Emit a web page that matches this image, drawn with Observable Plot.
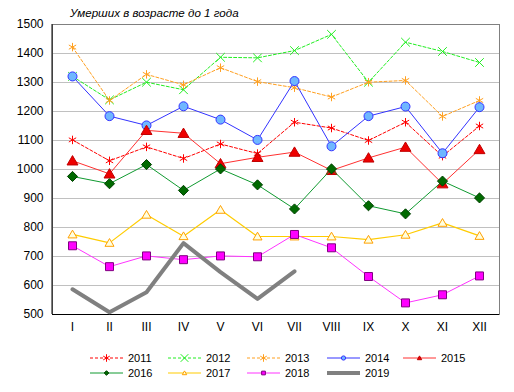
<!DOCTYPE html>
<html><head><meta charset="utf-8">
<script src="https://cdn.jsdelivr.net/npm/d3@7"></script>
<script src="https://cdn.jsdelivr.net/npm/@observablehq/plot@0.6"></script>
<style>
body{margin:0;background:#fff;font-family:"Liberation Sans",Arial,sans-serif;}
#wrap{position:relative;width:514px;height:392px;overflow:hidden;}
#title{position:absolute;left:70px;top:6px;font-style:italic;font-size:11.6px;color:#000;}
#legend{position:absolute;left:0;top:340px;}
</style></head><body>
<div id="wrap"><div id="chart"></div><div id="title">Умерших в возрасте до 1 года</div><svg id="legend" width="514" height="52"></svg></div>
<script>
const months = ["I","II","III","IV","V","VI","VII","VIII","IX","X","XI","XII"];
const yTicks = [500,600,700,800,900,1000,1100,1200,1300,1400,1500];
const y2011 = [1102,1030,1078,1038,1088,1055,1163,1143,1100,1163,1046,1150];
const y2012 = [1321,1240,1301,1275,1387,1385,1410,1466,1301,1439,1407,1369];
const y2013 = [1422,1238,1328,1292,1351,1303,1282,1250,1301,1307,1183,1238];
const y2014 = [1321,1184,1152,1218,1172,1102,1305,1080,1184,1217,1056,1215];
const y2015 = [1030,985,1135,1125,1020,1042,1060,997,1040,1077,951,1069];
const y2016 = [976,951,1017,928,1002,947,864,1002,875,847,960,902];
const y2017 = [776,747,844,770,861,769,769,769,758,775,816,771];
const y2018 = [737,665,702,689,702,699,776,730,631,540,568,633];
const y2019 = [587,508,577,746,646,554,649];

// square-ish diamond (like a rotated square)
const sqDiamond = {draw(ctx, size){ const r = Math.sqrt(size/Math.PI)*1.1; ctx.moveTo(0,-r); ctx.lineTo(r,0); ctx.lineTo(0,r); ctx.lineTo(-r,0); ctx.closePath(); }};
// Excel-like triangle: base at bottom, apex up
const tri = {draw(ctx, size){ const r = Math.sqrt(size/Math.PI); ctx.moveTo(0,-r); ctx.lineTo(r*1.05,r*0.8); ctx.lineTo(-r*1.05,r*0.8); ctx.closePath(); }};

const series = [
  {name:"2011", vals:y2011, stroke:"#ff0000", dash:"3,2", sw:1, sym:"asterisk", mstroke:"#ff0000", mfill:"none", r:4},
  {name:"2012", vals:y2012, stroke:"#22ee22", dash:"3,2", sw:1, sym:"times", mstroke:"#22ee22", mfill:"none", r:4},
  {name:"2013", vals:y2013, stroke:"#ffa020", dash:"3,2", sw:1, sym:"asterisk", mstroke:"#ffa020", mfill:"none", r:4},
  {name:"2014", vals:y2014, stroke:"#3333ff", dash:null, sw:1, sym:"circle", mstroke:"#3333ff", mfill:"#6fb7ff", r:4.5},
  {name:"2015", vals:y2015, stroke:"#ff3030", dash:null, sw:1, sym:tri, mstroke:"#c00000", mfill:"#ee0000", r:5.2},
  {name:"2016", vals:y2016, stroke:"#109a30", dash:null, sw:1, sym:sqDiamond, mstroke:"#004000", mfill:"#006a00", r:4.6},
  {name:"2017", vals:y2017, stroke:"#ffcc00", dash:null, sw:1.2, sym:tri, mstroke:"#ffa000", mfill:"#ffffe0", r:4.3},
  {name:"2018", vals:y2018, stroke:"#ff33ff", dash:null, sw:1, sym:"square", mstroke:"#800080", mfill:"#ff00ff", r:4.5},
  {name:"2019", vals:y2019, stroke:"#808080", dash:null, sw:4, sym:null}
];

const marks = [
  Plot.ruleY(yTicks.slice(1,-1), {stroke:"#c0c0c0"}),
  Plot.frame({stroke:"#808080"}),
  Plot.ruleY([500], {stroke:"#000"}),
  Plot.axisY({ticks:yTicks, tickSize:0, tickPadding:9, tickFormat:d=>String(d), label:null}),
  Plot.axisX({tickSize:0, tickPadding:8, label:null})
];
for (const s of series) {
  const data = s.vals.map((v,i)=>({m:months[i], v}));
  marks.push(Plot.line(data, {x:"m", y:"v", stroke:s.stroke, strokeWidth:s.sw, strokeDasharray:s.dash||undefined}));
  if (s.sym) marks.push(Plot.dot(data, {x:"m", y:"v", symbol:()=>s.sym, r:s.r, stroke:s.mstroke, fill:s.mfill, strokeWidth:1}));
}

const plot = Plot.plot({
  width:514, height:340,
  marginLeft:52, marginRight:15, marginTop:24, marginBottom:26,
  x:{type:"point", domain:months, padding:0.5},
  y:{domain:[500,1500]},
  symbol:{type:"identity"},
  style:{fontSize:"12px", fontFamily:"'Liberation Sans', Arial, sans-serif", color:"#000", background:"#fff"},
  marks
});
document.getElementById("chart").appendChild(plot);
// left axis line in black
const yr = plot.scale("y").range;
d3.select(plot).append("line").attr("x1",52).attr("x2",52).attr("y1",yr[0]).attr("y2",yr[1]).attr("stroke","#000");

// legend
const lg = d3.select("#legend");
const cols = [90,168,247,327,403];
const rows = [18,33];
const symMap = {asterisk:d3.symbolAsterisk, times:d3.symbolTimes, circle:d3.symbolCircle, square:d3.symbolSquare};
series.forEach((s,i)=>{
  const x0 = cols[i%5], y0 = rows[Math.floor(i/5)];
  const g = lg.append("g").attr("transform",`translate(${x0},${y0})`);
  g.append("line").attr("x1",0).attr("x2",33).attr("y1",0).attr("y2",0)
    .attr("stroke",s.stroke).attr("stroke-width",s.sw).attr("stroke-dasharray",s.dash);
  if (s.sym) {
    const t = typeof s.sym === "string" ? symMap[s.sym] : s.sym;
    g.append("path").attr("transform","translate(16.5,0)")
      .attr("d", d3.symbol(t, s.sym==="asterisk"||s.sym==="times"?40:14)())
      .attr("fill", s.mfill).attr("stroke", s.mstroke);
  }
  g.append("text").attr("x",38).attr("y",0).attr("dy","0.35em")
    .attr("font-size","11px").attr("font-family","'Liberation Sans', Arial, sans-serif").text(s.name);
});
</script>
</body></html>
